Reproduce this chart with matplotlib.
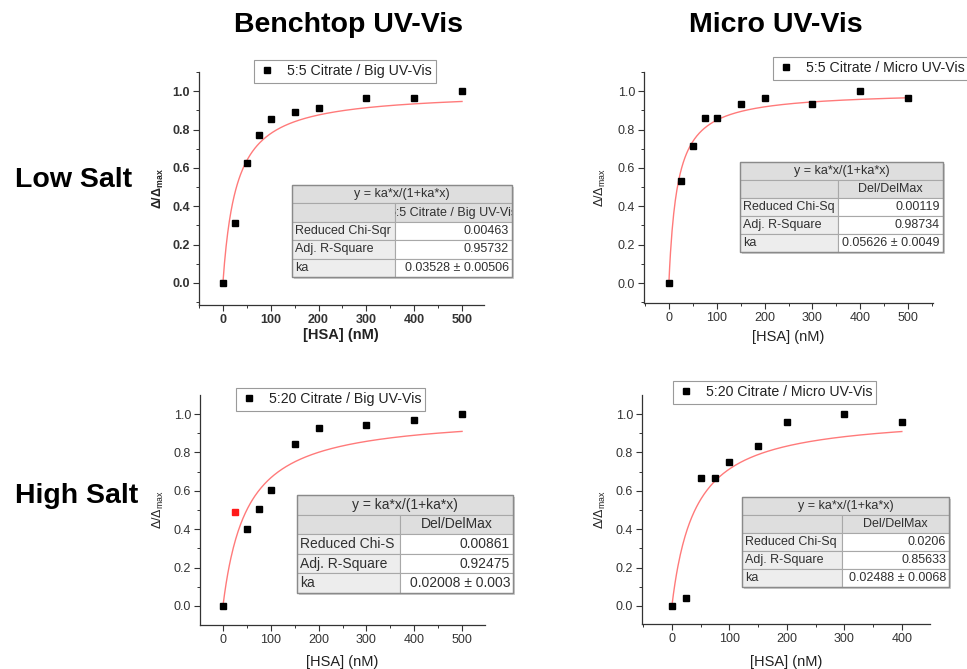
import matplotlib
matplotlib.use('Agg')
import matplotlib.pyplot as plt
from matplotlib.patches import Rectangle
from matplotlib.ticker import MultipleLocator
import numpy as np

plt.rcParams['font.family'] = ['Liberation Sans', 'DejaVu Sans']
plt.rcParams['mathtext.default'] = 'regular'

# HSA titration, normalised shift (delta / delta max)
hsa = [0, 25, 50, 75, 100, 150, 200, 300, 400, 500]
hsa_short = [0, 25, 50, 75, 100, 150, 200, 300, 400]

low_big = [0, 0.312, 0.627, 0.771, 0.853, 0.889, 0.913, 0.965, 0.965, 1.0]
low_micro = [0, 0.534, 0.714, 0.858, 0.858, 0.931, 0.965, 0.931, 1.0, 0.965]
high_big = [0, 0.491, 0.403, 0.503, 0.604, 0.844, 0.929, 0.943, 0.969, 1.0]
high_micro = [0, 0.043, 0.668, 0.668, 0.752, 0.835, 0.960, 1.0, 0.960]

# points flagged as outliers (drawn red, left out of the fit)
outliers = [[], [], [1], []]

series_names = ['5:5 Citrate / Big UV-Vis', '5:5 Citrate / Micro UV-Vis',
                '5:20 Citrate / Big UV-Vis', '5:20 Citrate / Micro UV-Vis']

# fit results y = ka*x/(1+ka*x)
ka = [0.03528, 0.05626, 0.02008, 0.02488]
fit_header = ['5:5 Citrate / Big UV-Vis', 'Del/DelMax', 'Del/DelMax', 'Del/DelMax']
chi_label = ['Reduced Chi-Sqr', 'Reduced Chi-Sq', 'Reduced Chi-S', 'Reduced Chi-Sq']
chi_sqr = ['0.00463', '0.00119', '0.00861', '0.0206']
adj_r2 = ['0.95732', '0.98734', '0.92475', '0.85633']
ka_text = ['0.03528 \u00b1 0.00506', '0.05626 \u00b1 0.0049',
           '0.02008 \u00b1 0.003', '0.02488 \u00b1 0.0068']

xdata = [hsa, hsa, hsa, hsa_short]
ydata = [low_big, low_micro, high_big, high_micro]

W, H = 967, 669
fig = plt.figure(figsize=(W / 100, H / 100), dpi=100)


def fx(p):
    return p / W


def fy(p):
    return 1 - p / H


# layout in pixels: axes box, limits, legend corner, table box, table split, fonts
panels = [
    dict(box=(199, 72, 484, 305), xlim=(-50, 546), ylim=(-0.115, 1.1),
         leg=(254, 60), table=(292, 185, 512, 277), split=395, tfs=9.0,
         ylab=(158, 188), xlab=(341, 335), bold=True),
    dict(box=(644, 72, 933, 303), xlim=(-52, 552), ylim=(-0.104, 1.1),
         leg=(773, 57), table=(740, 162, 943, 252), split=838, tfs=9.0,
         ylab=(600, 188), xlab=(788, 337), bold=False),
    dict(box=(200, 395, 485, 625), xlim=(-48, 548), ylim=(-0.099, 1.099),
         leg=(236, 388), table=(297, 495, 513, 593), split=400, tfs=10.0,
         ylab=(158, 510), xlab=(342, 662), bold=False),
    dict(box=(642, 395, 930, 624), xlim=(-52, 449), ylim=(-0.094, 1.099),
         leg=(673, 381), table=(742, 497, 949, 587), split=842, tfs=9.0,
         ylab=(600, 510), xlab=(786, 662), bold=False),
]


def cell(l, t, r, b, fill, edge='#a8a8a8'):
    rect = Rectangle((fx(l), fy(b)), (r - l) / W, (b - t) / H,
                     transform=fig.transFigure, facecolor=fill,
                     edgecolor=edge, linewidth=0.8)
    fig.add_artist(rect)
    return rect


def cell_text(rect, x, y, s, ha, size):
    t = fig.text(fx(x), fy(y), s, ha=ha, va='center', fontsize=size,
                 color='#303030')
    t.set_clip_path(rect)


def draw_table(i, p):
    l, t, r, b = p['table']
    s = p['split']
    fs = p['tfs']
    rh = (b - t) / 5.0
    # soft drop shadow
    cell(l + 2, t + 2, r + 2, b + 2, '#cfcfcf', edge='none')
    rows = [t + k * rh for k in range(6)]
    rc = cell(l, rows[0], r, rows[1], '#dedede')
    cell_text(rc, (l + r) / 2, (rows[0] + rows[1]) / 2,
              'y = ka*x/(1+ka*x)', 'center', fs)
    cell(l, rows[1], s, rows[2], '#dedede')
    rc = cell(s, rows[1], r, rows[2], '#dedede')
    cell_text(rc, (s + r) / 2, (rows[1] + rows[2]) / 2,
              fit_header[i], 'center', fs)
    labels = [chi_label[i], 'Adj. R-Square', 'ka']
    values = [chi_sqr[i], adj_r2[i], ka_text[i]]
    for k in range(3):
        y0, y1 = rows[k + 2], rows[k + 3]
        rc = cell(l, y0, s, y1, '#ededed')
        cell_text(rc, l + 3, (y0 + y1) / 2, labels[k], 'left', fs)
        rc = cell(s, y0, r, y1, 'white')
        cell_text(rc, r - 3, (y0 + y1) / 2, values[k], 'right', fs)
    outer = Rectangle((fx(l), fy(b)), (r - l) / W, (b - t) / H,
                      transform=fig.transFigure, facecolor='none',
                      edgecolor='#8a8a8a', linewidth=1.0)
    fig.add_artist(outer)


for i, p in enumerate(panels):
    l, t, r, b = p['box']
    ax = fig.add_axes([fx(l), fy(b), (r - l) / W, (b - t) / H])
    x = np.array(xdata[i], dtype=float)
    y = np.array(ydata[i], dtype=float)
    keep = np.ones(len(x), dtype=bool)
    keep[outliers[i]] = False

    xs = np.linspace(0, x.max(), 300)
    ax.plot(xs, ka[i] * xs / (1 + ka[i] * xs), color='#ff7a7a', lw=1.0,
            zorder=2)
    ax.plot(x[keep], y[keep], 's', color='black', ms=4.6, ls='none',
            label=series_names[i], zorder=3)
    if len(outliers[i]):
        ax.plot(x[~keep], y[~keep], 's', color='#ff1a1a', ms=4.6,
                ls='none', zorder=3)

    ax.set_xlim(*p['xlim'])
    ax.set_ylim(*p['ylim'])
    ax.xaxis.set_major_locator(MultipleLocator(100))
    ax.xaxis.set_minor_locator(MultipleLocator(50))
    ax.yaxis.set_major_locator(MultipleLocator(0.2))
    ax.yaxis.set_minor_locator(MultipleLocator(0.1))
    for side in ['top', 'right']:
        ax.spines[side].set_visible(False)
    for side in ['left', 'bottom']:
        ax.spines[side].set_color('#333333')
        ax.spines[side].set_linewidth(0.9)
    ax.tick_params(which='major', direction='out', length=4, width=0.8,
                   colors='#333333', labelsize=9, pad=2.5)
    ax.tick_params(which='minor', direction='out', length=2, width=0.7,
                   colors='#333333')

    weight = 'bold' if p['bold'] else 'normal'
    ax.set_xlabel('[HSA] (nM)', fontsize=10.5, fontweight=weight,
                  color='#222222')
    ax.set_ylabel('\u0394/\u0394$_{max}$', fontsize=9, fontweight=weight,
                  color='#222222')
    ax.xaxis.set_label_coords(fx(p['xlab'][0]), fy(p['xlab'][1]),
                              transform=fig.transFigure)
    ax.yaxis.set_label_coords(fx(p['ylab'][0]), fy(p['ylab'][1]),
                              transform=fig.transFigure)
    ax.xaxis.label.set_va('center')
    ax.yaxis.label.set_va('center')
    if p['bold']:
        plt.setp(ax.get_xticklabels() + ax.get_yticklabels(),
                 fontweight='bold')

    leg = ax.legend(loc='upper left',
                    bbox_to_anchor=(fx(p['leg'][0]), fy(p['leg'][1])),
                    bbox_transform=fig.transFigure, fancybox=False,
                    framealpha=1, edgecolor='#9a9a9a', fontsize=10.2,
                    handlelength=1.3, handletextpad=0.7, borderpad=0.3,
                    borderaxespad=0, numpoints=1)
    leg.get_frame().set_linewidth(0.8)
    for txt in leg.get_texts():
        txt.set_color('#222222')

    draw_table(i, p)

# column and row headings
fig.text(fx(348), fy(31.5), 'Benchtop UV-Vis', ha='center', va='baseline',
         fontsize=20.5, fontweight='bold')
fig.text(fx(776), fy(31.5), 'Micro UV-Vis', ha='center', va='baseline',
         fontsize=20.5, fontweight='bold')
fig.text(fx(15), fy(187), 'Low Salt', ha='left', va='baseline',
         fontsize=20.5, fontweight='bold')
fig.text(fx(15), fy(503), 'High Salt', ha='left', va='baseline',
         fontsize=20.5, fontweight='bold')

fig.savefig('out.png', dpi=100)
